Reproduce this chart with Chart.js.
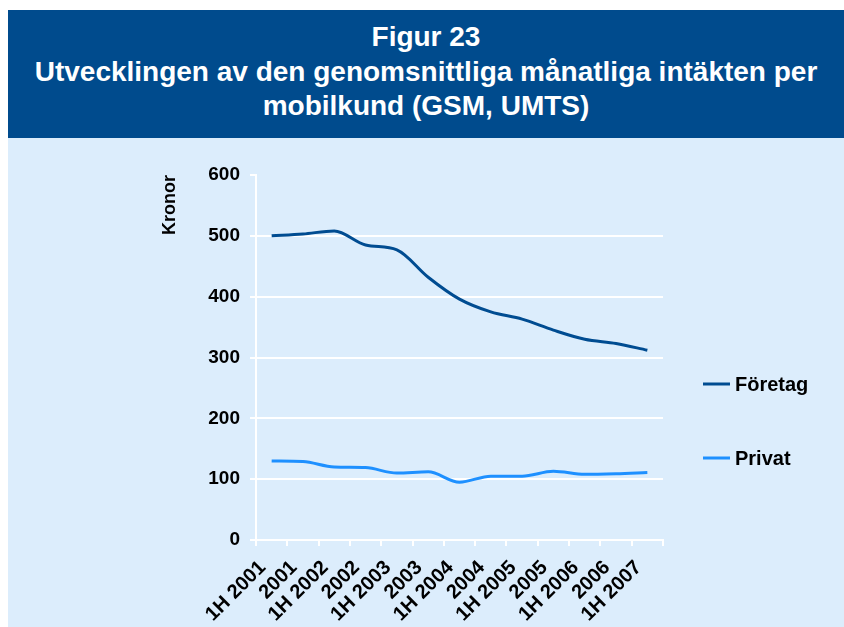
<!DOCTYPE html>
<html>
<head>
<meta charset="utf-8">
<script src="https://cdn.jsdelivr.net/npm/chart.js@4/dist/chart.umd.min.js"></script>
<style>
  html, body { margin: 0; padding: 0; background: #fff; }
  body { width: 844px; height: 627px; position: relative; overflow: hidden; font-family: "Liberation Sans", Arial, sans-serif; }
  .banner {
    position: absolute; left: 8px; top: 10px; width: 836px; height: 128px;
    background: #004b8d; color: #fff; font-weight: bold; font-size: 28px;
    line-height: 34.5px; text-align: center; padding-top: 10px; box-sizing: border-box;
  }
  .plot { position: absolute; left: 8px; top: 138px; width: 836px; height: 489px; background: #dcedfc; }
</style>
</head>
<body>
<div class="banner">Figur 23<br>Utvecklingen av den genomsnittliga månatliga intäkten per<br>mobilkund (GSM, UMTS)</div>
<div class="plot"><canvas id="chart" width="836" height="489"></canvas></div>
<script>
const periods = ['1H 2001', '2001', '1H 2002', '2002', '1H 2003', '2003', '1H 2004',
                 '2004', '1H 2005', '2005', '1H 2006', '2006', '1H 2007'];
const foretag = [500, 503, 508, 485, 477, 432, 396, 375, 363, 345, 330, 323, 312];
const privat = [130, 129, 120, 119, 110, 112, 95, 105, 105, 113, 108, 109, 111];
const seriesNames = ['Företag', 'Privat'];
const seriesColors = ['#004c91', '#1e90ff'];

// legend drawn by hand: two short lines with labels, far apart, right of the plot
const sideLegend = {
    id: 'sideLegend',
    afterDraw(chart) {
        const ctx = chart.ctx;
        const rows = [246, 320];
        ctx.save();
        ctx.font = 'bold 20px "Liberation Sans", Arial, sans-serif';
        ctx.textBaseline = 'middle';
        chart.data.datasets.forEach((ds, i) => {
            ctx.strokeStyle = ds.borderColor;
            ctx.lineWidth = 3;
            ctx.beginPath();
            ctx.moveTo(695, rows[i]);
            ctx.lineTo(722, rows[i]);
            ctx.stroke();
            ctx.fillStyle = '#000';
            ctx.fillText(ds.label, 727, rows[i] + 1);
        });
        ctx.restore();
    }
};

const ctx = document.getElementById('chart').getContext('2d');
new Chart(ctx, {
    type: 'line',
    data: {
        labels: periods,
        datasets: [
            { label: seriesNames[0], data: foretag, borderColor: seriesColors[0], backgroundColor: seriesColors[0] },
            { label: seriesNames[1], data: privat, borderColor: seriesColors[1], backgroundColor: seriesColors[1] }
        ]
    },
    options: {
        responsive: false,
        animation: false,
        layout: { padding: { top: 37, left: 0, right: 181, bottom: 0 } },
        elements: {
            line: { borderWidth: 3, cubicInterpolationMode: 'monotone' },
            point: { radius: 0 }
        },
        scales: {
            x: {
                offset: true,
                afterFit: (scale) => { scale.height = 87; },
                grid: { offset: true, drawOnChartArea: false, tickColor: '#fff', tickLength: 6, lineWidth: 2 },
                border: { color: '#fff', width: 2 },
                ticks: {
                    color: '#000',
                    font: { family: '"Liberation Sans", Arial, sans-serif', size: 20, weight: 'bold' },
                    minRotation: 45, maxRotation: 45, autoSkip: false,
                    padding: 10, labelOffset: -9
                }
            },
            y: {
                min: 0, max: 600,
                afterFit: (scale) => { scale.width = 248; },
                grid: {
                    color: (c) => c.tick && c.tick.value === 600 ? 'rgba(0,0,0,0)' : '#fff',
                    tickColor: '#fff', tickLength: 6, lineWidth: 2
                },
                border: { color: '#fff', width: 2 },
                ticks: {
                    stepSize: 100, color: '#000', padding: 10,
                    font: { family: '"Liberation Sans", Arial, sans-serif', size: 19, weight: 'bold' }
                },
                title: {
                    display: true, text: 'Kronor', align: 'end', color: '#000',
                    font: { family: '"Liberation Sans", Arial, sans-serif', size: 18, weight: 'bold' },
                    padding: { top: 151, bottom: 0 }
                }
            }
        },
        plugins: {
            legend: { display: false },
            tooltip: { enabled: false }
        }
    },
    plugins: [sideLegend]
});
</script>
</body>
</html>
